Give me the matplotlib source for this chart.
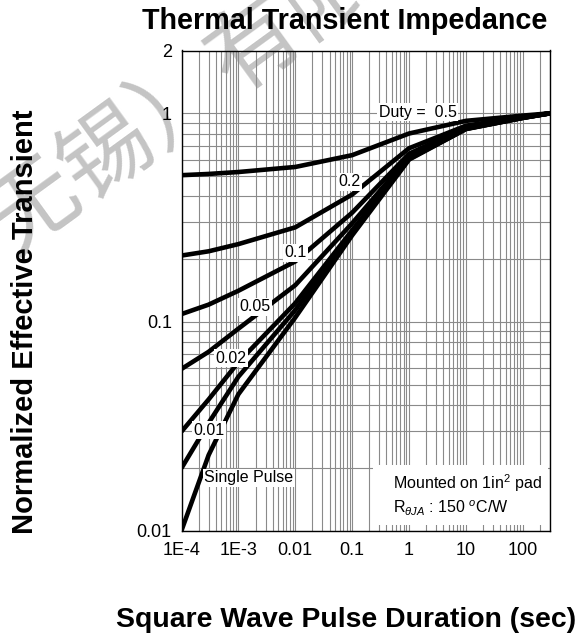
import matplotlib
matplotlib.use("Agg")
import matplotlib.pyplot as plt
from matplotlib.patches import Rectangle
from matplotlib.ticker import FixedLocator, LogLocator, NullFormatter, FixedFormatter

plt.rcParams['font.family'] = ['Liberation Sans', 'DejaVu Sans']
plt.rcParams['mathtext.fontset'] = 'custom'
plt.rcParams['mathtext.rm'] = 'Liberation Sans'
plt.rcParams['mathtext.it'] = 'Liberation Sans:italic'

# Pulse duration (s)
pulse_time = [1e-4, 3e-4, 1e-3, 1e-2, 1e-1, 1, 10, 100, 300]

# Normalized effective transient thermal impedance per duty cycle
z_duty_050 = [0.505, 0.512, 0.523, 0.553, 0.630, 0.800, 0.920, 0.975, 1.0]
z_duty_020 = [0.208, 0.218, 0.236, 0.284, 0.408, 0.680, 0.872, 0.960, 1.0]
z_duty_010 = [0.109, 0.121, 0.141, 0.195, 0.334, 0.640, 0.856, 0.955, 1.0]
z_duty_005 = [0.0595, 0.0719, 0.0928, 0.150, 0.297, 0.620, 0.848, 0.953, 1.0]
z_duty_002 = [0.0298, 0.0425, 0.0641, 0.123, 0.275, 0.608, 0.843, 0.951, 1.0]
z_duty_001 = [0.0199, 0.0328, 0.0546, 0.114, 0.267, 0.604, 0.842, 0.951, 1.0]
z_single = [0.0100, 0.0230, 0.0450, 0.105, 0.260, 0.600, 0.840, 0.950, 1.0]

curves = [z_duty_050, z_duty_020, z_duty_010, z_duty_005,
          z_duty_002, z_duty_001, z_single]

# Curve labels and where they sit (pulse time, impedance)
curve_labels = ["Duty =  0.5", "0.2", "0.1", "0.05", "0.02", "0.01", "Single Pulse"]
label_x = [1.41, 0.0904, 0.0102, 1.95e-3, 7.4e-4, 3.03e-4, 1.53e-3]
label_y = [1.014, 0.469, 0.214, 0.118, 0.0671, 0.0303, 0.01786]

x_ticks = [1e-4, 1e-3, 1e-2, 1e-1, 1, 10, 100]
x_tick_labels = ["1E-4", "1E-3", "0.01", "0.1", "1", "10", "100"]
y_ticks = [0.01, 0.1, 1, 2]
y_tick_labels = ["0.01", "0.1", "1", "2"]

W, H = 583, 642
fig = plt.figure(figsize=(W / 100, H / 100), dpi=100)
left, right, top, bottom = 181.5, 550, 50.5, 530.5
ax = fig.add_axes([left / W, 1 - bottom / H, (right - left) / W, (bottom - top) / H])
ax.set_facecolor('none')

# Watermark behind the chart
fig.text(182 / W, 1 - 100 / H, "无锡）有限", family=['Noto Sans CJK SC'],
         fontsize=66, color='#c4c4c4', rotation=36, ha='center', va='center',
         zorder=-1)

ax.set_xscale('log')
ax.set_yscale('log')
ax.set_xlim(1e-4, 300)
ax.set_ylim(0.01, 2)

ax.xaxis.set_major_locator(FixedLocator(x_ticks))
ax.xaxis.set_major_formatter(FixedFormatter(x_tick_labels))
ax.xaxis.set_minor_locator(LogLocator(base=10, subs=range(2, 10), numticks=20))
ax.xaxis.set_minor_formatter(NullFormatter())
ax.yaxis.set_major_locator(FixedLocator(y_ticks))
ax.yaxis.set_major_formatter(FixedFormatter(y_tick_labels))
ax.yaxis.set_minor_locator(LogLocator(base=10, subs=range(2, 10), numticks=20))
ax.yaxis.set_minor_formatter(NullFormatter())

ax.grid(True, which='both', color='#8a8a8a', linewidth=0.8)
ax.set_axisbelow(True)
ax.tick_params(which='both', length=0, labelsize=13)
ax.tick_params(axis='x', pad=8)
ax.tick_params(axis='y', pad=7)
for s in ax.spines.values():
    s.set_linewidth(1.0)
    s.set_color('black')

for z in curves:
    ax.plot(pulse_time, z, color='black', linewidth=3.3,
            solid_joinstyle='round', solid_capstyle='butt', zorder=3)

for txt, lx, ly in zip(curve_labels, label_x, label_y):
    ax.text(lx, ly, txt, fontsize=11.5, ha='center', va='center', zorder=5,
            bbox=dict(boxstyle='square,pad=0.08', facecolor='white', edgecolor='none'))

# Mounting note box
ax.add_patch(Rectangle((0.52, 0.0115), 0.4746, 0.1245, transform=ax.transAxes,
                       facecolor='white', edgecolor='none', zorder=4))
ax.text(0.574, 0.099, "Mounted on 1in$^2$ pad", transform=ax.transAxes,
        fontsize=11.5, ha='left', va='center', zorder=5)
ax.text(0.574, 0.047, r"R$_{\theta JA}$ : 150 $^o$C/W", transform=ax.transAxes,
        fontsize=11.5, ha='left', va='center', zorder=5)

fig.text(345 / W, 1 - 21 / H, "Thermal Transient Impedance", fontsize=20.7,
         fontweight='bold', ha='center', va='center')
fig.text(346 / W, 1 - 620 / H, "Square Wave Pulse Duration (sec)", fontsize=20.4,
         fontweight='bold', ha='center', va='center')
fig.text(25 / W, 1 - 322 / H, "Normalized Effective Transient", fontsize=21,
         fontweight='bold', ha='center', va='center', rotation=90)

fig.savefig("out.png", dpi=100)
